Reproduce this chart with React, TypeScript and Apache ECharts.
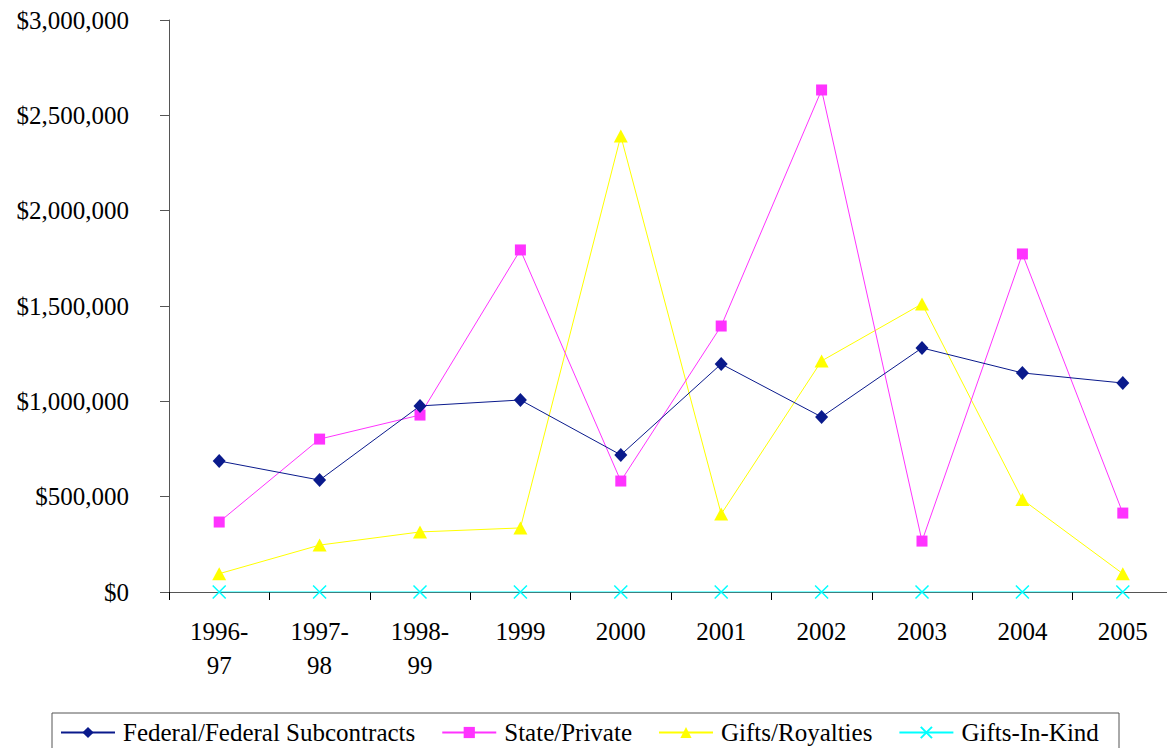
import React, { useEffect, useRef } from "react";
import * as echarts from "echarts";

const categories = ["1996-\n97", "1997-\n98", "1998-\n99", "1999", "2000", "2001", "2002", "2003", "2004", "2005"];
const federal = [687000, 587000, 976000, 1007000, 719000, 1196000, 918000, 1280000, 1149000, 1096000];
const statePrivate = [367000, 802000, 928000, 1794000, 582000, 1395000, 2633000, 267000, 1773000, 414000];
const giftsRoyalties = [96000, 246000, 315000, 336000, 2392000, 409000, 1212000, 1511000, 485000, 96000];
const giftsInKind = [0, 0, 0, 0, 0, 0, 0, 0, 0, 0];
const seriesNames = ["Federal/Federal Subcontracts", "State/Private", "Gifts/Royalties", "Gifts-In-Kind"];

const FONT = "Liberation Serif";
const CROSS = "path://M0,0L10,10M10,0L0,10";

export default function App() {
  const ref = useRef<HTMLDivElement>(null);
  useEffect(() => {
    document.body.style.margin = "0";
    const chart = echarts.init(ref.current!, null, { renderer: "svg" });
    const mk = (name: string, data: number[], color: string, symbol: string, size: any, extra: any = {}) => ({
      name,
      type: "line",
      data,
      symbol,
      symbolSize: size,
      showSymbol: true,
      lineStyle: { color, width: 1 },
      itemStyle: { color, ...(extra.itemStyle || {}) },
      emphasis: { disabled: true },
      z: extra.z || 2,
    });
    chart.setOption({
      animation: false,
      backgroundColor: "#fff",
      textStyle: { fontFamily: FONT },
      grid: { left: 169, right: 7, top: 20, bottom: 156, containLabel: false },
      xAxis: {
        type: "category",
        data: categories,
        boundaryGap: true,
        axisLine: { show: true, lineStyle: { color: "#555", width: 1 } },
        axisTick: { show: true, length: 8, lineStyle: { color: "#000" }, interval: 0 },
        axisLabel: { color: "#000", fontSize: 25, fontFamily: FONT, margin: 22, lineHeight: 34, interval: 0 },
        splitLine: { show: false },
      },
      yAxis: {
        type: "value",
        min: 0,
        max: 3000000,
        interval: 500000,
        axisLine: { show: true, lineStyle: { color: "#555", width: 1 } },
        axisTick: { show: true, length: 9, lineStyle: { color: "#555" } },
        axisLabel: {
          color: "#000",
          fontSize: 25,
          fontFamily: FONT,
          margin: 40,
          formatter: (v: number) => "$" + v.toLocaleString("en-US"),
        },
        splitLine: { show: false },
      },
      legend: {
        left: 60,
        top: 720,
        itemWidth: 54,
        itemHeight: 14,
        itemGap: 26,
        padding: 0,
        textStyle: { fontSize: 25, fontFamily: FONT, color: "#000", padding: [0, 0, 0, 3] },
        data: seriesNames,
      },
      graphic: [
        {
          type: "rect",
          shape: { x: 52, y: 713, width: 1067, height: 60 },
          style: { fill: "none", stroke: "#555", lineWidth: 1 },
          silent: true,
        },
      ],
      series: [
        mk(seriesNames[3], giftsInKind, "#00FFFF", CROSS, 13, {
          itemStyle: { borderColor: "#00FFFF", borderWidth: 1.5 },
          z: 1,
        }),
        mk(seriesNames[2], giftsRoyalties, "#FFFF00", "triangle", [14, 13]),
        mk(seriesNames[1], statePrivate, "#FF33FF", "rect", 11),
        mk(seriesNames[0], federal, "#0A1A8C", "diamond", [13, 14], { z: 3 }),
      ],
    });
    return () => chart.dispose();
  }, []);
  return (
    <div style={{ width: 1167, height: 748, overflow: "hidden", position: "relative" }}>
      <div ref={ref} style={{ width: 1180, height: 748 }} />
    </div>
  );
}
